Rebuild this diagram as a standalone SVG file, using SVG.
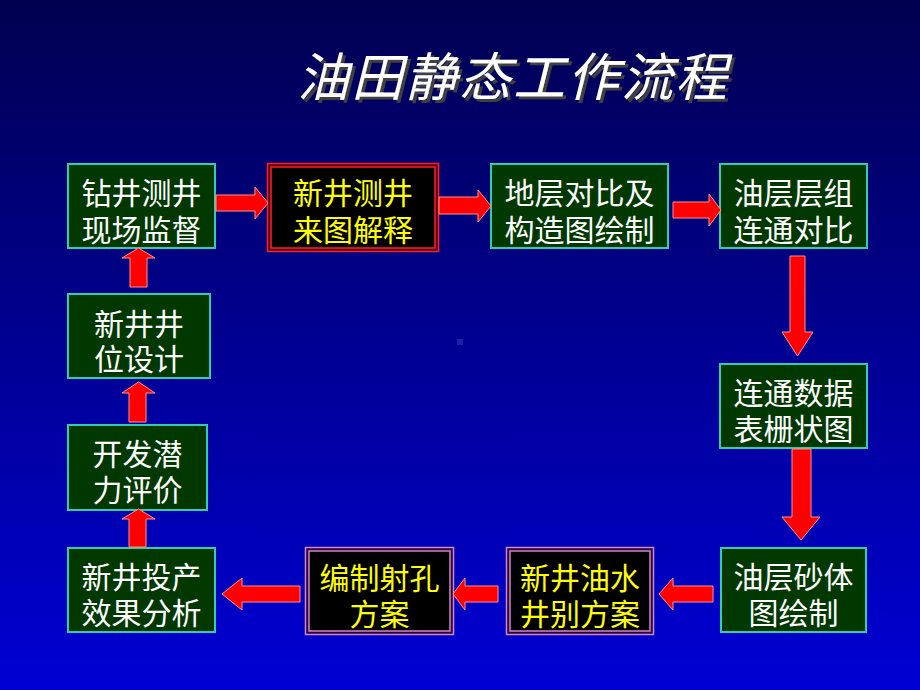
<svg xmlns="http://www.w3.org/2000/svg" width="920" height="690" viewBox="0 0 920 690">
  <defs>
    <linearGradient id="bg" x1="0" y1="0" x2="0" y2="1">
      <stop offset="0" stop-color="#000050"/>
      <stop offset="1" stop-color="#0000D4"/>
    </linearGradient>
    <filter id="shadow" x="-10%" y="-30%" width="120%" height="160%">
      <feDropShadow dx="3" dy="3" stdDeviation="0.6" flood-color="#404040" flood-opacity="1"/>
    </filter>
    <style>
      .box{fill:#003800;stroke:#33CCB0;stroke-width:2}
      .t{font-family:"Noto Sans CJK SC","Noto Sans CJK TC",sans-serif;font-size:30px;text-anchor:middle;fill:#FFFFFF}
      .y{fill:#FFFF00}
      .arr{fill:#FF0000;stroke:#FF9090;stroke-width:1}
      .redo{fill:#500018;stroke:#FF2020;stroke-width:1.5}
      .redi{fill:#000000;stroke:#FF2020;stroke-width:1.5}
      .puro{fill:#300030;stroke:#CC88CC;stroke-width:1.5}
      .puri{fill:#000000;stroke:#CC88CC;stroke-width:1.5}
      .title{font-family:"Noto Sans CJK SC","Noto Sans CJK TC",sans-serif;font-size:52px;font-style:italic;text-anchor:middle;letter-spacing:2px;fill:#FFFFFF}
    </style>
  </defs>
  <rect x="0" y="0" width="920" height="690" fill="url(#bg)"/>
  <rect x="457" y="339" width="6" height="6" fill="#3535B5" opacity="0.6"/>

  <g id="title">
    <text class="title" x="513" y="96" filter="url(#shadow)">油田静态工作流程</text>
  </g>

  <g id="n1">
    <rect class="box" x="68" y="164" width="147" height="84"/>
    <text class="t"><tspan x="141.5" y="204">钻井测井</tspan><tspan x="141.5" y="241">现场监督</tspan></text>
  </g>
  <g id="n2">
    <rect class="redo" x="267.5" y="163.5" width="171" height="88"/>
    <rect class="redi" x="271" y="167" width="164" height="81"/>
    <text class="t y"><tspan x="353" y="204">新井测井</tspan><tspan x="353" y="241">来图解释</tspan></text>
  </g>
  <g id="n3">
    <rect class="box" x="491" y="164" width="177" height="84"/>
    <text class="t"><tspan x="579.5" y="204">地层对比及</tspan><tspan x="579.5" y="241">构造图绘制</tspan></text>
  </g>
  <g id="n4">
    <rect class="box" x="720" y="164" width="147" height="84"/>
    <text class="t"><tspan x="793.5" y="204">油层层组</tspan><tspan x="793.5" y="241">连通对比</tspan></text>
  </g>
  <g id="n5">
    <rect class="box" x="720" y="364" width="147" height="84"/>
    <text class="t"><tspan x="793.5" y="404">连通数据</tspan><tspan x="793.5" y="440">表栅状图</tspan></text>
  </g>
  <g id="n6">
    <rect class="box" x="721" y="548" width="145" height="84"/>
    <text class="t"><tspan x="793.5" y="588">油层砂体</tspan><tspan x="793.5" y="624">图绘制</tspan></text>
  </g>
  <g id="n7">
    <rect class="puro" x="506.5" y="547.5" width="147" height="87"/>
    <rect class="puri" x="510" y="551" width="140" height="80"/>
    <text class="t y"><tspan x="580" y="589">新井油水</tspan><tspan x="580" y="625">井别方案</tspan></text>
  </g>
  <g id="n8">
    <rect class="puro" x="305.5" y="547.5" width="148" height="87"/>
    <rect class="puri" x="309" y="551" width="141" height="80"/>
    <text class="t y"><tspan x="379.5" y="589">编制射孔</tspan><tspan x="379.5" y="625">方案</tspan></text>
  </g>
  <g id="n9">
    <rect class="box" x="68" y="548" width="147" height="84"/>
    <text class="t"><tspan x="141.5" y="588">新井投产</tspan><tspan x="141.5" y="624">效果分析</tspan></text>
  </g>
  <g id="n10">
    <rect class="box" x="68" y="425" width="139" height="85"/>
    <text class="t"><tspan x="137.5" y="465">开发潜</tspan><tspan x="137.5" y="501">力评价</tspan></text>
  </g>
  <g id="n11">
    <rect class="box" x="68" y="294" width="142" height="84"/>
    <text class="t"><tspan x="139" y="335">新井井</tspan><tspan x="139" y="370">位设计</tspan></text>
  </g>

  <g id="connectors">
    <polygon class="arr" points="216,195 255,195 255,187 268,203 255,219 255,211 216,211"/>
    <polygon class="arr" points="439,197 478,197 478,190 491,206 478,222 478,214 439,214"/>
    <polygon class="arr" points="673,202 709,202 709,194 721,210 709,226 709,218 673,218"/>
    <polygon class="arr" points="790,256 805,256 805,332 813,332 797.5,356 782,332 790,332"/>
    <polygon class="arr" points="792,449 811,449 811,517 820,517 801,540 782,517 792,517"/>
    <polygon class="arr" points="713,586 673,586 673,578 659,594 673,610 673,602 713,602"/>
    <polygon class="arr" points="498,586 465,586 465,578 453,594 465,610 465,602 498,602"/>
    <polygon class="arr" points="300,586 242,586 242,578 222,594 242,610 242,602 300,602"/>
    <polygon class="arr" points="129,547 129,519 122,519 138.5,509 155,519 146,519 146,547"/>
    <polygon class="arr" points="129,422 129,393 122,393 138.5,382 155,393 146,393 146,422"/>
    <polygon class="arr" points="130,287 130,258 122,258 138.5,248 155,258 147,258 147,287"/>
  </g>
</svg>
